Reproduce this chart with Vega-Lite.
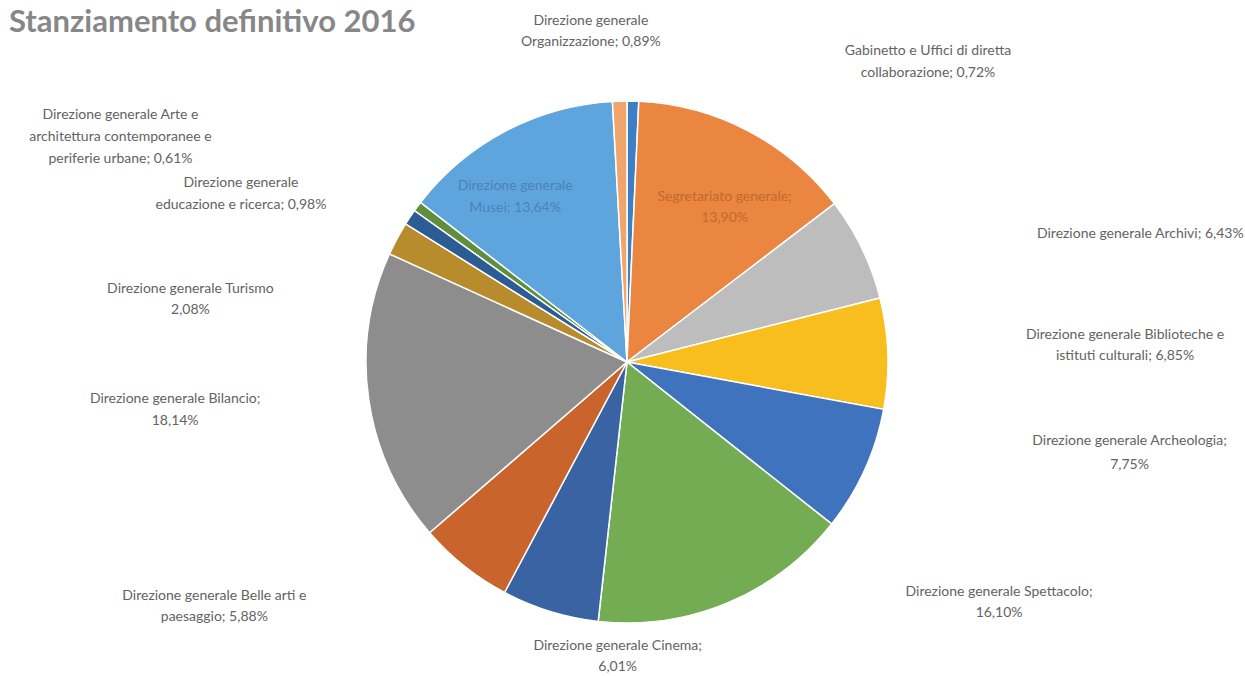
{
  "$schema": "https://vega.github.io/schema/vega-lite/v6.json",
  "width": 1236,
  "height": 644,
  "autosize": {"type": "none"},
  "padding": {"left": 9, "top": 40, "right": 0, "bottom": 0},
  "background": "white",
  "title": {
    "text": "Stanziamento definitivo 2016",
    "anchor": "start",
    "frame": "group",
    "font": "Lato",
    "fontSize": 31,
    "fontWeight": "bold",
    "color": "#878787",
    "offset": -25
  },
  "data": {
    "values": [
      {"ordine": 1, "Direzione": "Gabinetto e Uffici di diretta collaborazione", "Quota": 0.72, "etichetta": "Gabinetto e Uffici di diretta\ncollaborazione; 0,72%"},
      {"ordine": 2, "Direzione": "Segretariato generale", "Quota": 13.90, "etichetta": "Segretariato generale;\n13,90%"},
      {"ordine": 3, "Direzione": "Direzione generale Archivi", "Quota": 6.43, "etichetta": "Direzione  generale Archivi; 6,43%"},
      {"ordine": 4, "Direzione": "Direzione generale Biblioteche e istituti culturali", "Quota": 6.85, "etichetta": "Direzione  generale Biblioteche e\nistituti culturali; 6,85%"},
      {"ordine": 5, "Direzione": "Direzione generale Archeologia", "Quota": 7.75, "etichetta": "Direzione generale Archeologia;\n7,75%"},
      {"ordine": 6, "Direzione": "Direzione generale Spettacolo", "Quota": 16.10, "etichetta": "Direzione  generale Spettacolo;\n16,10%"},
      {"ordine": 7, "Direzione": "Direzione generale Cinema", "Quota": 6.01, "etichetta": "Direzione  generale Cinema;\n6,01%"},
      {"ordine": 8, "Direzione": "Direzione generale Belle arti e paesaggio", "Quota": 5.88, "etichetta": "Direzione generale Belle arti e\npaesaggio; 5,88%"},
      {"ordine": 9, "Direzione": "Direzione generale Bilancio", "Quota": 18.14, "etichetta": "Direzione generale Bilancio;\n18,14%"},
      {"ordine": 10, "Direzione": "Direzione generale Turismo", "Quota": 2.08, "etichetta": "Direzione generale Turismo\n2,08%"},
      {"ordine": 11, "Direzione": "Direzione generale educazione e ricerca", "Quota": 0.98, "etichetta": "Direzione generale\neducazione e ricerca; 0,98%"},
      {"ordine": 12, "Direzione": "Direzione generale Arte e architettura contemporanee e periferie urbane", "Quota": 0.61, "etichetta": "Direzione generale Arte e\narchitettura contemporanee e\nperiferie urbane; 0,61%"},
      {"ordine": 13, "Direzione": "Direzione generale Musei", "Quota": 13.64, "etichetta": "Direzione generale\nMusei; 13,64%"},
      {"ordine": 14, "Direzione": "Direzione generale Organizzazione", "Quota": 0.89, "etichetta": "Direzione generale\nOrganizzazione; 0,89%"}
    ]
  },
  "transform": [
    {"stack": "Quota", "groupby": [], "offset": "normalize", "sort": [{"field": "ordine", "order": "ascending"}], "as": ["q0", "q1"]}
  ],
  "layer": [
    {
      "mark": {"type": "arc", "outerRadius": 261, "stroke": "white", "strokeWidth": 1.5},
      "encoding": {
        "theta": {"field": "q0", "type": "quantitative", "scale": {"domain": [0, 1]}},
        "theta2": {"field": "q1"},
        "color": {
          "field": "Direzione",
          "type": "nominal",
          "legend": null,
          "scale": {
            "domain": [
              "Gabinetto e Uffici di diretta collaborazione",
              "Segretariato generale",
              "Direzione generale Archivi",
              "Direzione generale Biblioteche e istituti culturali",
              "Direzione generale Archeologia",
              "Direzione generale Spettacolo",
              "Direzione generale Cinema",
              "Direzione generale Belle arti e paesaggio",
              "Direzione generale Bilancio",
              "Direzione generale Turismo",
              "Direzione generale educazione e ricerca",
              "Direzione generale Arte e architettura contemporanee e periferie urbane",
              "Direzione generale Musei",
              "Direzione generale Organizzazione"
            ],
            "range": ["#3C7FC4", "#EA8640", "#BDBDBD", "#F7BE1E", "#3F73BE", "#74AC54", "#3A63A3", "#C8642C", "#8D8D8D", "#B88B2C", "#2B5C94", "#5E8E3E", "#5FA5DD", "#EFA56C"]
          }
        }
      }
    },
    {
      "transform": [{"filter": "datum.ordine === 14"}],
      "mark": {"type": "text", "radius": 343, "dx": -17, "dy": 1, "lineBreak": "\n", "font": "Lato", "fontSize": 14, "lineHeight": 21.5, "color": "#636363"},
      "encoding": {"theta": {"field": "q0", "type": "quantitative"}, "text": {"field": "etichetta"}}
    },
    {
      "transform": [{"filter": "datum.ordine === 1"}],
      "mark": {"type": "text", "radius": 312, "dx": 301, "dy": 1, "lineBreak": "\n", "font": "Lato", "fontSize": 14, "lineHeight": 21.5, "color": "#636363"},
      "encoding": {"theta": {"field": "q0", "type": "quantitative"}, "text": {"field": "etichetta"}}
    },
    {
      "transform": [{"filter": "datum.ordine === 12"}],
      "mark": {"type": "text", "radius": 557, "dx": -53, "dy": 76, "lineBreak": "\n", "font": "Lato", "fontSize": 14, "lineHeight": 22, "color": "#636363"},
      "encoding": {"theta": {"field": "q0", "type": "quantitative"}, "text": {"field": "etichetta"}}
    },
    {
      "transform": [{"filter": "datum.ordine === 11"}],
      "mark": {"type": "text", "radius": 422, "dx": -28, "dy": 44, "lineBreak": "\n", "font": "Lato", "fontSize": 14, "lineHeight": 22, "color": "#636363"},
      "encoding": {"theta": {"field": "q0", "type": "quantitative"}, "text": {"field": "etichetta"}}
    },
    {
      "transform": [{"filter": "datum.ordine === 13"}],
      "mark": {"type": "text", "radius": 197, "dx": 44, "dy": -56, "lineBreak": "\n", "font": "Lato", "fontSize": 14, "lineHeight": 22, "color": "#4C82B8"},
      "encoding": {"theta": {"field": "q0", "type": "quantitative"}, "text": {"field": "etichetta"}}
    },
    {
      "transform": [{"filter": "datum.ordine === 2"}],
      "mark": {"type": "text", "radius": 169, "dx": 90, "dy": 4, "lineBreak": "\n", "font": "Lato", "fontSize": 14, "lineHeight": 21, "color": "#BE6A30"},
      "encoding": {"theta": {"field": "q0", "type": "quantitative"}, "text": {"field": "etichetta"}}
    },
    {
      "transform": [{"filter": "datum.ordine === 3"}],
      "mark": {"type": "text", "radius": 486, "dx": 127, "dy": 167, "lineBreak": "\n", "font": "Lato", "fontSize": 14, "lineHeight": 21, "color": "#636363"},
      "encoding": {"theta": {"field": "q0", "type": "quantitative"}, "text": {"field": "etichetta"}}
    },
    {
      "transform": [{"filter": "datum.ordine === 4"}],
      "mark": {"type": "text", "radius": 489, "dx": 24, "dy": 93, "lineBreak": "\n", "font": "Lato", "fontSize": 14, "lineHeight": 21, "color": "#636363"},
      "encoding": {"theta": {"field": "q0", "type": "quantitative"}, "text": {"field": "etichetta"}}
    },
    {
      "transform": [{"filter": "datum.ordine === 5"}],
      "mark": {"type": "text", "radius": 509, "dx": 2, "dy": -13, "lineBreak": "\n", "font": "Lato", "fontSize": 14, "lineHeight": 24, "color": "#636363"},
      "encoding": {"theta": {"field": "q0", "type": "quantitative"}, "text": {"field": "etichetta"}}
    },
    {
      "transform": [{"filter": "datum.ordine === 6"}],
      "mark": {"type": "text", "radius": 435, "dx": 31, "dy": -40, "lineBreak": "\n", "font": "Lato", "fontSize": 14, "lineHeight": 21, "color": "#636363"},
      "encoding": {"theta": {"field": "q0", "type": "quantitative"}, "text": {"field": "etichetta"}}
    },
    {
      "transform": [{"filter": "datum.ordine === 7"}],
      "mark": {"type": "text", "radius": 284, "dx": 22, "dy": 2, "lineBreak": "\n", "font": "Lato", "fontSize": 14, "lineHeight": 21, "color": "#636363"},
      "encoding": {"theta": {"field": "q0", "type": "quantitative"}, "text": {"field": "etichetta"}}
    },
    {
      "transform": [{"filter": "datum.ordine === 8"}],
      "mark": {"type": "text", "radius": 400, "dx": -225, "dy": -119, "lineBreak": "\n", "font": "Lato", "fontSize": 14, "lineHeight": 21, "color": "#636363"},
      "encoding": {"theta": {"field": "q0", "type": "quantitative"}, "text": {"field": "etichetta"}}
    },
    {
      "transform": [{"filter": "datum.ordine === 9"}],
      "mark": {"type": "text", "radius": 366, "dx": -175, "dy": -202, "lineBreak": "\n", "font": "Lato", "fontSize": 14, "lineHeight": 22, "color": "#636363"},
      "encoding": {"theta": {"field": "q0", "type": "quantitative"}, "text": {"field": "etichetta"}}
    },
    {
      "transform": [{"filter": "datum.ordine === 10"}],
      "mark": {"type": "text", "radius": 428, "dx": -47, "dy": 104, "lineBreak": "\n", "font": "Lato", "fontSize": 14, "lineHeight": 21, "color": "#636363"},
      "encoding": {"theta": {"field": "q0", "type": "quantitative"}, "text": {"field": "etichetta"}}
    }
  ],
  "config": {"view": {"stroke": null}}
}
